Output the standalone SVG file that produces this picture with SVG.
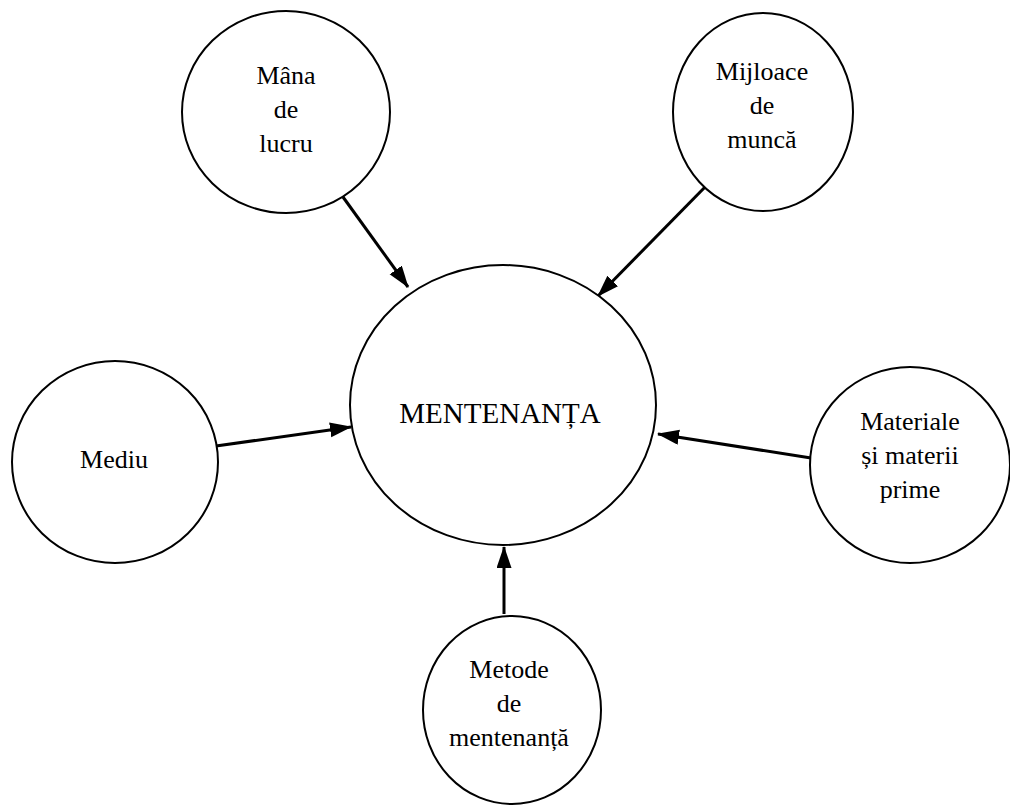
<svg xmlns="http://www.w3.org/2000/svg" width="1010" height="806" viewBox="0 0 1010 806">
  <defs>
    <marker id="arrow" markerUnits="userSpaceOnUse" markerWidth="22" markerHeight="16" refX="21" refY="7.5" orient="auto">
      <path d="M0,0 L22,7.5 L0,15 z" fill="#000"/>
    </marker>
    <style>
      .node { fill: #fff; stroke: #000; stroke-width: 2; }
      .label { font-family: "Liberation Serif", "Times New Roman", serif; font-size: 26px; fill: #000; text-anchor: middle; }
      .big { font-size: 29px; }
      .edge { stroke: #000; stroke-width: 3; fill: none; marker-end: url(#arrow); }
    </style>
  </defs>
  <rect width="1010" height="806" fill="#fff"/>

  <g id="connectors">
    <line class="edge" x1="343" y1="197" x2="408" y2="287"/>
    <line class="edge" x1="708" y1="184" x2="598" y2="296"/>
    <line class="edge" x1="216" y1="446" x2="351" y2="427"/>
    <line class="edge" x1="811" y1="458" x2="658" y2="434"/>
    <line class="edge" x1="504" y1="614" x2="504" y2="547"/>
  </g>

  <g id="mentenanta">
    <ellipse class="node" cx="503" cy="405" rx="153" ry="140"/>
    <text class="label big" x="500" y="423">MENTENANȚA</text>
  </g>

  <g id="mana-de-lucru">
    <ellipse class="node" cx="286" cy="112" rx="104" ry="101"/>
    <text class="label" x="286" y="84">Mâna</text>
    <text class="label" x="286" y="118">de</text>
    <text class="label" x="286" y="152">lucru</text>
  </g>

  <g id="mijloace-de-munca">
    <ellipse class="node" cx="763" cy="112" rx="90" ry="99"/>
    <text class="label" x="762" y="80">Mijloace</text>
    <text class="label" x="762" y="114">de</text>
    <text class="label" x="762" y="148">muncă</text>
  </g>

  <g id="mediu">
    <ellipse class="node" cx="115" cy="462" rx="103" ry="101"/>
    <text class="label" x="114" y="468">Mediu</text>
  </g>

  <g id="materiale">
    <ellipse class="node" cx="910" cy="465" rx="100" ry="98"/>
    <text class="label" x="910" y="430">Materiale</text>
    <text class="label" x="910" y="464">și materii</text>
    <text class="label" x="910" y="498">prime</text>
  </g>

  <g id="metode">
    <ellipse class="node" cx="512" cy="710" rx="89" ry="94"/>
    <text class="label" x="509" y="678">Metode</text>
    <text class="label" x="509" y="712">de</text>
    <text class="label" x="509" y="746">mentenanță</text>
  </g>
</svg>
